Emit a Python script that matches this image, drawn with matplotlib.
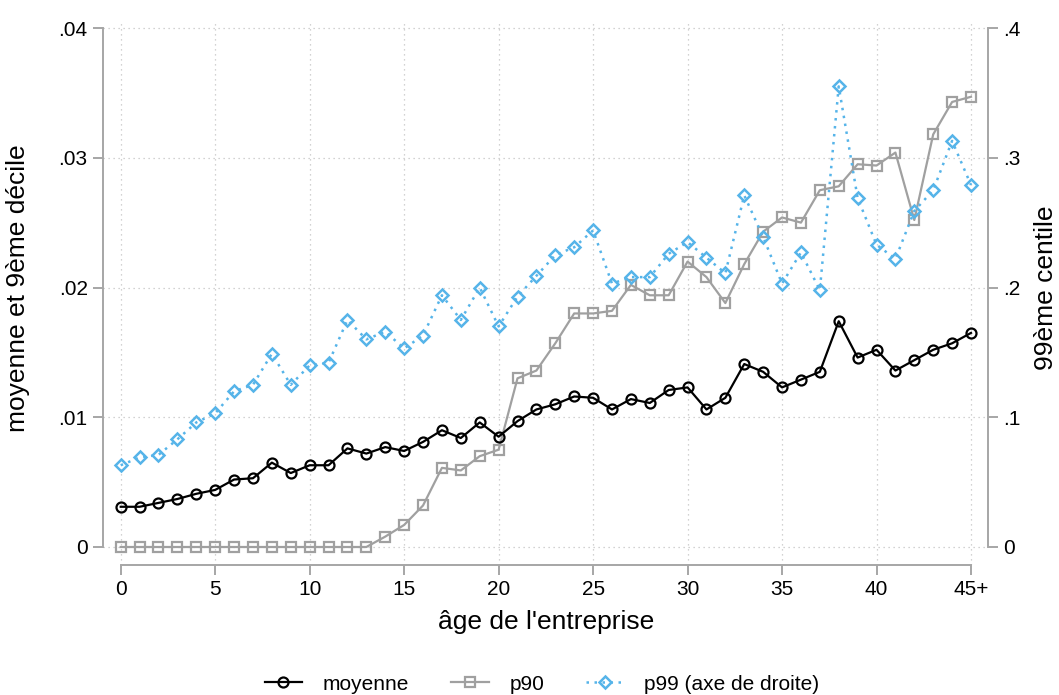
import matplotlib
matplotlib.use("Agg")
import matplotlib.pyplot as plt
import numpy as np

ages = list(range(46))
age_tick_pos = [0, 5, 10, 15, 20, 25, 30, 35, 40, 45]
age_tick_labels = ["0", "5", "10", "15", "20", "25", "30", "35", "40", "45+"]

moyenne = [0.0031, 0.0031, 0.0034, 0.0037, 0.0041, 0.0044, 0.0052, 0.0053, 0.0065, 0.0057,
           0.0063, 0.0063, 0.0076, 0.0072, 0.0077, 0.0074, 0.0081, 0.0090, 0.0084, 0.0096,
           0.0085, 0.0097, 0.0106, 0.0110, 0.0116, 0.0115, 0.0106, 0.0114, 0.0111, 0.0121,
           0.0123, 0.0106, 0.0115, 0.0141, 0.0135, 0.0123, 0.0129, 0.0135, 0.0174, 0.0146,
           0.0152, 0.0136, 0.0144, 0.0152, 0.0157, 0.0165]

p90 = [0, 0, 0, 0, 0, 0, 0, 0, 0, 0,
       0, 0, 0, 0, 0.0008, 0.0017, 0.0032, 0.0061, 0.0059, 0.0070,
       0.0075, 0.0130, 0.0136, 0.0157, 0.0180, 0.0180, 0.0182, 0.0202, 0.0194, 0.0194,
       0.0220, 0.0208, 0.0188, 0.0218, 0.0243, 0.0254, 0.0250, 0.0275, 0.0278, 0.0295,
       0.0294, 0.0304, 0.0252, 0.0318, 0.0343, 0.0347]

p99 = [0.063, 0.069, 0.071, 0.083, 0.096, 0.103, 0.120, 0.125, 0.149, 0.125,
       0.140, 0.142, 0.175, 0.160, 0.166, 0.153, 0.163, 0.194, 0.175, 0.200,
       0.170, 0.193, 0.209, 0.225, 0.231, 0.244, 0.203, 0.208, 0.208, 0.226,
       0.235, 0.223, 0.211, 0.271, 0.239, 0.203, 0.227, 0.198, 0.355, 0.269,
       0.233, 0.222, 0.259, 0.275, 0.313, 0.279]

left_ticks = [0, 0.01, 0.02, 0.03, 0.04]
left_labels = ["0", ".01", ".02", ".03", ".04"]
right_ticks = [0, 0.1, 0.2, 0.3, 0.4]
right_labels = ["0", ".1", ".2", ".3", ".4"]

plt.rcParams['font.family'] = ['Liberation Sans', 'DejaVu Sans']

W, H = 1059, 695
fig = plt.figure(figsize=(W / 100, H / 100), dpi=100)
left_px, right_px, top_px, bot_px = 103, 988, 22, 565
ax = fig.add_axes([left_px / W, 1 - bot_px / H, (right_px - left_px) / W, (bot_px - top_px) / H])
ax2 = ax.twinx()

px_per_unit_y = 519 / 0.04
ymin = -(bot_px - 547) / px_per_unit_y
ymax = 0.04 + (28 - top_px) / px_per_unit_y
px_per_x = 850 / 45
xmin = -(120.7 - left_px) / px_per_x
xmax = 45 + (right_px - 971) / px_per_x

axis_grey = '#a6a6a6'
black = '#000000'
grey = '#a0a0a0'
blue = '#56b4e9'

ax.set_xlim(xmin, xmax)
ax.set_ylim(ymin, ymax)
ax2.set_ylim(ymin * 10, ymax * 10)

# grid
for xv in age_tick_pos:
    ax.axvline(xv, color='#c4c4c4', lw=0.9, ls=(0, (1, 3)), zorder=0)
for yv in left_ticks:
    ax.axhline(yv, color='#c4c4c4', lw=0.9, ls=(0, (1, 3)), zorder=0)

l1, = ax.plot(ages, moyenne, color=black, lw=1.6, marker='o', ms=7.2, mfc='none', mec=black, mew=1.6,
              label='moyenne', zorder=4)
l2, = ax.plot(ages, p90, color=grey, lw=1.6, marker='s', ms=6.5, mfc='none', mec=grey, mew=1.6,
              label='p90', zorder=3)
l3, = ax2.plot(ages, p99, color=blue, lw=1.8, ls=(0, (1, 2.2)), marker='D', ms=6.2, mfc='none', mec=blue,
               mew=1.8, label='p99 (axe de droite)', zorder=3)

for a in (ax, ax2):
    a.spines['top'].set_visible(False)
    for s in a.spines.values():
        s.set_color(axis_grey)
        s.set_linewidth(1.4)
    a.patch.set_visible(False)

ax.spines['right'].set_visible(False)
ax2.spines['left'].set_visible(False)
ax2.spines['bottom'].set_visible(False)
ax.spines['left'].set_bounds(0, 0.04)
ax2.spines['right'].set_bounds(0, 0.4)
ax.spines['bottom'].set_bounds(0, 45)

ax.set_xticks(age_tick_pos)
ax.set_xticklabels(age_tick_labels)
ax.set_yticks(left_ticks)
ax.set_yticklabels(left_labels)
ax2.set_yticks(right_ticks)
ax2.set_yticklabels(right_labels)

ax.tick_params(axis='both', direction='out', length=7, width=1.4, color=axis_grey, labelsize=15, pad=4)
ax2.tick_params(axis='y', direction='out', length=7, width=1.4, color=axis_grey, labelsize=15, pad=4)

ax.set_xlabel("âge de l'entreprise", fontsize=19, va='center')
ax.set_ylabel("moyenne et 9ème décile", fontsize=19, va='center')
ax2.set_ylabel("99ème centile", fontsize=19, rotation=90, va='center')
axw = right_px - left_px
axh = bot_px - top_px
ax.xaxis.set_label_coords((546 - left_px) / axw, (bot_px - 622) / axh)
ax.yaxis.set_label_coords((18 - left_px) / axw, (bot_px - 288) / axh)
ax2.yaxis.set_label_coords((1046 - left_px) / axw, (bot_px - 288) / axh)

fig.legend(handles=[l1, l2, l3], loc='center', bbox_to_anchor=(542 / W, 1 - 684 / H), ncol=3, frameon=False,
           fontsize=15, handlelength=1.8, columnspacing=2.0, handletextpad=1.0)

fig.savefig('out.png', dpi=100)
